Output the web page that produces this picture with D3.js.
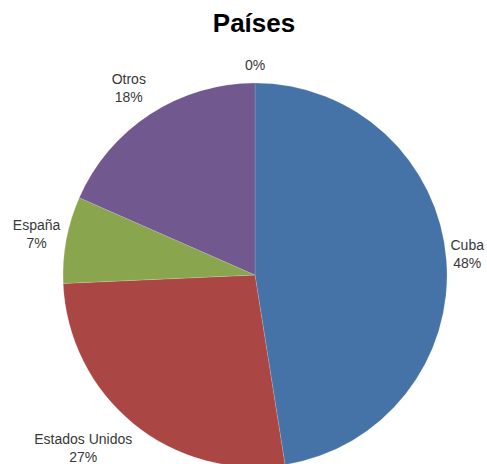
<!DOCTYPE html>
<html>
<head>
<meta charset="utf-8">
<script src="https://cdn.jsdelivr.net/npm/d3@7"></script>
<style>
  html, body { margin: 0; padding: 0; background: #fff; }
  svg { display: block; }
</style>
</head>
<body>
<svg id="chart" width="487" height="464"></svg>
<script>
const categories = ["Cuba", "Estados Unidos", "España", "Otros", ""];
const values = [47.5, 26.8, 7.3, 18.4, 0];
const colors = ["#4572A7", "#AA4643", "#89A54E", "#71588F", "#ffffff"];
const title = "Países";

// label layout nudges (pixels), keyed by category
const labelNudge = {
  "Cuba": [-2, -3],
  "Estados Unidos": [0, 2],
  "España": [0, 1],
  "Otros": [-4, -3],
  "": [0, -3]
};

const W = 487, H = 464;
const cx = 255, cy = 275, r = 192;
const svg = d3.select("#chart");

svg.append("text")
  .attr("x", 254).attr("y", 32)
  .attr("text-anchor", "middle")
  .attr("font-family", "Liberation Sans, Arial, sans-serif")
  .attr("font-weight", "bold")
  .attr("font-size", 26)
  .attr("fill", "#000")
  .text(title);

const data = categories.map((c, i) => ({ name: c, value: values[i], color: colors[i] }));
const total = d3.sum(values);
const pie = d3.pie().value(d => d.value).sort(null);
const arcs = pie(data);
const arc = d3.arc().innerRadius(0).outerRadius(r);

const g = svg.append("g").attr("transform", `translate(${cx},${cy})`);
g.selectAll("path")
  .data(arcs.filter(a => a.data.value > 0))
  .join("path")
  .attr("d", arc)
  .attr("fill", d => d.data.color)
  .attr("stroke", "rgba(255,255,255,0.25)")
  .attr("stroke-width", 0.6);

const fontSize = 14, lineH = 18;
const lg = g.append("g")
  .attr("font-family", "Liberation Sans, Arial, sans-serif")
  .attr("font-size", fontSize)
  .attr("fill", "#383838");

arcs.forEach(a => {
  const mid = (a.startAngle + a.endAngle) / 2;
  const pct = Math.round(a.data.value / total * 100) + "%";
  const lines = a.data.name ? [a.data.name, pct] : [pct];
  const t = lg.append("text").attr("text-anchor", "middle");
  lines.forEach((s, i) => t.append("tspan").attr("x", 0).attr("dy", i === 0 ? 0 : lineH).text(s));
  const bb = t.node().getBBox();
  const w = bb.width, h = lines.length * lineH;
  const rr = r + 6;
  const px = rr * Math.sin(mid), py = -rr * Math.cos(mid);
  const sx = Math.max(-1, Math.min(1, Math.sin(mid) * 1.5));
  const sy = Math.max(-1, Math.min(1, -Math.cos(mid) * 1.5));
  const n = labelNudge[a.data.name] || [0, 0];
  const bx = px + sx * w / 2 + n[0], by = py + sy * h / 2 + n[1];
  t.attr("transform", `translate(${bx},${by - h / 2 + lineH * 0.75})`);
});
</script>
</body>
</html>
